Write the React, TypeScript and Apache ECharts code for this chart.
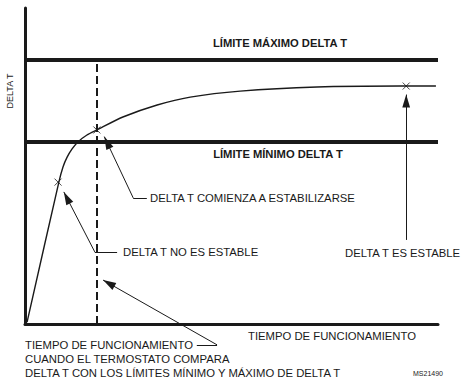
import React, { useEffect, useRef } from "react";
import * as echarts from "echarts";

// Curve: delta T over running time (arbitrary 0-100 units)
const curveTime = [0.5, 8.2, 9.2, 10.2, 11.4, 12.8, 15.0, 17.4, 23.7, 32.0, 40.0, 52.1, 70.7, 90.8, 99.5];
const curveDelta = [0.6, 44.9, 49.7, 52.8, 55.4, 57.6, 59.8, 61.4, 65.5, 69.3, 71.8, 73.7, 75.0, 75.3, 75.3];

// Limits and compare time
const limitMax = 83.5;
const limitMin = 57.6;
const compareTime = 17.4;

// Marked points (x marks)
const markTime = [8.0, 17.4, 92.3];
const markDelta = [44.9, 61.4, 75.3];

// Annotation leaders: [label end, elbow, arrow tip] in (time, delta)
const leaderStabilizing = [[29.5, 39.9], [26.2, 39.9], [19.2, 59.3]];
const leaderNotStable = [[22.3, 22.8], [16.9, 22.8], [9.4, 41.8]];
const leaderStable = [[92.3, 26.6], [92.3, 26.6], [92.3, 72.6]];
const leaderCompare = [[41.6, -6.6], [46.5, -6.6], [18.9, 13.9]];
const leaders = [leaderStabilizing, leaderNotStable, leaderStable, leaderCompare];

const FONT = "'Liberation Sans', Arial, Helvetica, sans-serif";
const INK = "#1a1a1a";

const ARROW = "path://M0,0L0,0M40,40L40,40M20,20L26,40L14,40Z";

export default function App() {
  const ref = useRef<HTMLDivElement>(null);
  useEffect(() => {
    const chart = echarts.init(ref.current!, null, { renderer: "svg" });
    const txt = (text: string, x: number, y: number, extra: any = {}) => ({
      type: "text",
      x,
      y,
      style: {
        text,
        fill: INK,
        font: `11.3px ${FONT}`,
        verticalAlign: "middle",
        align: "left",
        ...extra,
      },
    });
    chart.setOption({
      animation: false,
      backgroundColor: "#ffffff",
      grid: { left: 25, right: 24, top: 8, bottom: 54 },
      xAxis: {
        type: "value",
        min: 0,
        max: 100,
        axisLine: { show: true, lineStyle: { color: INK, width: 3 } },
        axisTick: { show: false },
        axisLabel: { show: false },
        splitLine: { show: false },
      },
      yAxis: {
        type: "value",
        min: 0,
        max: 100,
        axisLine: { show: true, lineStyle: { color: INK, width: 3 } },
        axisTick: { show: false },
        axisLabel: { show: false },
        splitLine: { show: false },
      },
      series: [
        {
          type: "line",
          data: curveTime.map((t, i) => [t, curveDelta[i]]),
          smooth: 0.25,
          showSymbol: false,
          lineStyle: { color: INK, width: 1.4 },
          markLine: {
            silent: true,
            symbol: "none",
            label: { show: false },
            data: [
              { yAxis: limitMax, lineStyle: { color: INK, width: 4, type: "solid" } },
              { yAxis: limitMin, lineStyle: { color: INK, width: 4, type: "solid" } },
              [
                { coord: [compareTime, 0], lineStyle: { color: INK, width: 2, type: [8, 4] } },
                { coord: [compareTime, limitMax] },
              ],
            ],
          },
        },
        {
          type: "scatter",
          data: markTime.map((t, i) => [t, markDelta[i]]),
          symbol: "path://M0,0L10,10M10,0L0,10",
          symbolSize: 7,
          itemStyle: { color: "transparent", borderColor: INK, borderWidth: 1 },
          z: 5,
        },
        {
          // horizontal parts of the leaders
          type: "lines",
          coordinateSystem: "cartesian2d",
          clip: false,
          symbol: "none",
          lineStyle: { color: INK, width: 1, opacity: 1 },
          data: leaders.map((l) => ({ coords: [l[0], l[1]] })),
          z: 6,
        },
        {
          // arrow parts of the leaders
          type: "lines",
          coordinateSystem: "cartesian2d",
          clip: false,
          symbol: ["none", ARROW],
          symbolSize: 26,
          lineStyle: { color: INK, width: 1, opacity: 1 },
          itemStyle: { color: INK },
          data: leaders.map((l) => ({ coords: [l[1], l[2]] })),
          z: 6,
        },
      ],
      graphic: [
        txt("LÍMITE MÁXIMO DELTA T", 280, 43, { align: "center", font: `bold 11.2px ${FONT}` }),
        txt("LÍMITE MÍNIMO DELTA T", 278, 154, { align: "center", font: `bold 11.2px ${FONT}` }),
        txt("DELTA T COMIENZA A ESTABILIZARSE", 150, 198),
        txt("DELTA T NO ES ESTABLE", 123, 252),
        txt("DELTA T ES ESTABLE", 345, 253),
        txt("TIEMPO DE FUNCIONAMIENTO", 332, 336, { align: "center" }),
        txt("TIEMPO DE FUNCIONAMIENTO", 25, 345),
        txt("CUANDO EL TERMOSTATO COMPARA", 25, 359),
        txt("DELTA T CON LOS LÍMITES MÍNIMO Y MÁXIMO DE DELTA T", 25, 373),
        txt("MS21490", 413, 373, { font: `7px ${FONT}` }),
        {
          type: "text",
          x: 10,
          y: 91,
          rotation: Math.PI / 2,
          style: {
            text: "DELTA T",
            fill: INK,
            font: `9px ${FONT}`,
            align: "center",
            verticalAlign: "middle",
          },
        },
      ],
    });
    return () => chart.dispose();
  }, []);
  return (
    <div
      ref={ref}
      style={{ position: "absolute", left: 0, top: 0, width: 462, height: 378 }}
    />
  );
}
